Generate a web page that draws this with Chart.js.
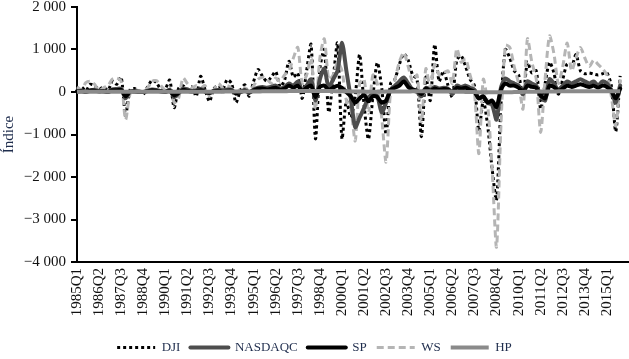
<!DOCTYPE html>
<html lang="es">
<head>
<meta charset="UTF-8">
<title>Índice</title>
<style>
  html, body { margin: 0; padding: 0; background: #fff; }
  #chart { display: block; }
</style>
</head>
<body>
<canvas id="chart" width="629" height="359"></canvas>
<script src="https://cdn.jsdelivr.net/npm/chart.js"></script>
<script>
// quarters 1985Q1 .. 2016Q2 (axis runs a little past the last observation)
const quarters = [];
for (let y = 1985; y <= 2016; y++) for (let q = 1; q <= 4; q++) quarters.push(y + 'Q' + q);
quarters.length = 126;

const shownTicks = ['1985Q1', '1986Q2', '1987Q3', '1988Q4', '1990Q1', '1991Q2', '1992Q3', '1993Q4',
  '1995Q1', '1996Q2', '1997Q3', '1998Q4', '2000Q1', '2001Q2', '2002Q3', '2003Q4', '2005Q1',
  '2006Q2', '2007Q3', '2008Q4', '2010Q1', '2011Q2', '2012Q3', '2013Q4', '2015Q1'];

const dji = [
  60, 120, 30, 180, 150, 60, 120, 40, 250, 180,
  350, -550, 50, 80, 20, -50, 120, 280, 220, 60,
  80, 280, -370, 80, 150, 60, 120, -100, 370, 60,
  -220, 80, 150, 60, 290, 200, -250, 40, 170, -100,
  250, 530, 370, 250, 350, 480, 120, 280, 720, 350,
  450, -150, 500, 1120, -1100, 550, 1000, -480, 300, 1150,
  -1100, -200, -600, -100, 880, -300, -1110, -100, 690, 100,
  -1000, 200, 300, 650, 900, 750, 400, 300, -1050, 350,
  -200, 1120, 250, 500, 160, -120, 750, 850, 600, 300,
  150, -920, -200, -800, -1800, -2550, -300, 1000, 800, 500,
  400, -100, 700, 450, 500, -400, 200, 700, 450, -50,
  300, 660, 600, 880, 500, 430, 450, 420, 400, 430,
  450, 150, -930, 380
];

const nasdaqc = [
  20, 30, 10, 40, 50, 30, 20, 0, 60, 70,
  80, -150, 10, 20, 10, 0, 30, 60, 50, 20,
  0, 50, -120, -30, 80, 60, 20, 40, 70, 20,
  -30, 30, 50, 40, 60, 50, -40, 0, 50, -20,
  60, 100, 120, 100, 120, 150, 80, 120, 200, 150,
  250, 50, 150, 300, -200, 300, 550, 100, 300, 500,
  1160, 500, -150, -830, -600, -380, -130, -50, -100, -480,
  -250, 50, 150, 250, 340, 200, 50, 0, -100, 100,
  50, 120, 80, 100, 80, -50, 150, 120, 150, 100,
  50, -150, -100, -250, -300, -650, 100, 320, 250, 200,
  150, -50, 250, 200, 150, -100, -200, 300, 200, 50,
  150, 250, 200, 250, 300, 250, 200, 250, 150, 250,
  200, 50, -250, 150
];

const sp = [
  10, 20, 0, 30, 30, 10, 20, 0, 40, 40,
  50, -100, 10, 10, 0, 0, 20, 40, 30, 10,
  0, 30, -80, -20, 50, 30, 10, 20, 40, 10,
  -20, 20, 30, 20, 30, 30, -30, 0, 30, -10,
  40, 80, 80, 60, 80, 100, 50, 80, 150, 100,
  150, 20, 100, 150, -120, 120, 150, 50, 100, 150,
  100, 0, -100, -250, -150, -70, -220, -100, -120, -250,
  -200, 50, 100, 150, 250, 120, 60, 30, -50, 80,
  30, 80, 50, 70, 60, 0, 100, 80, 100, 50,
  0, -150, -100, -250, -200, -350, 50, 200, 150, 150,
  100, 0, 150, 120, 100, -80, -150, 150, 120, 30,
  80, 150, 120, 150, 180, 150, 120, 150, 100, 150,
  120, 30, -150, 80
];

const ws = [
  120, 50, 220, 250, 180, 30, 100, 150, 300, 330,
  250, -650, -50, 50, 30, 0, 100, 250, 270, 150,
  50, 100, -250, -150, 330, 200, 100, 150, 100, 150,
  -100, 50, 200, 100, 150, 80, -50, 80, 100, 20,
  150, 300, 350, 300, 200, 330, 250, 400, 500, 800,
  1050, 200, 400, 800, -400, 800, 1250, 300, 400, 700,
  500, -200, -400, -1150, 200, 300, -500, 400, 200, -600,
  -1650, 0, 300, 710, 930, 600, 250, 400, -700, 550,
  100, 650, 400, 450, 500, 200, 1020, 700, 780, 400,
  0, -1450, 300, -300, -1800, -3650, -800, 1100, 1050, 600,
  200, -400, 1250, 700, 300, -950, 300, 1320, 900, 200,
  600, 1150, 500, 800, 1050, 800, 600, 750, 650, 550,
  400, -100, -800, 300
];

const hp = [
  5, 5, 5, 6, 6, 6, 6, 7, 7, 7,
  7, 6, 6, 6, 6, 6, 7, 7, 7, 7,
  7, 7, 6, 6, 6, 6, 7, 7, 7, 8,
  8, 8, 8, 9, 9, 9, 10, 10, 11, 12,
  13, 14, 15, 16, 17, 18, 19, 20, 21, 22,
  23, 23, 24, 24, 24, 24, 23, 22, 21, 20,
  18, 16, 14, 12, 10, 9, 8, 8, 8, 8,
  9, 10, 11, 12, 13, 14, 15, 15, 15, 15,
  15, 14, 13, 12, 10, 8, 6, 4, 2, 0,
  -2, -4, -6, -7, -8, -8, -7, -6, -4, -2,
  0, 2, 4, 6, 8, 10, 12, 13, 14, 15,
  16, 17, 18, 18, 19, 19, 19, 20, 20, 20,
  20, 20, 20, 20
];

const serif = "'Liberation Serif', 'Times New Roman', serif";

// "−1 000" style labels
const fmt = (v) => {
  const a = Math.abs(v);
  const s = a >= 1000 ? Math.floor(a / 1000) + ' ' + String(a % 1000).padStart(3, '0') : String(a);
  return (v < 0 ? '\u2212' : '') + s;
};

new Chart(document.getElementById('chart'), {
  type: 'line',
  data: {
    labels: quarters,
    datasets: [
      { label: 'DJI', data: dji, borderColor: '#000', borderWidth: 3, borderDash: [3, 3], order: 4 },
      { label: 'NASDAQC', data: nasdaqc, borderColor: '#4d4d4d', borderWidth: 4, borderCapStyle: 'round', order: 2 },
      { label: 'SP', data: sp, borderColor: '#000', borderWidth: 4, borderCapStyle: 'round', order: 1 },
      { label: 'WS', data: ws, borderColor: '#b5b5b5', borderWidth: 3, borderDash: [7, 4], order: 3 },
      { label: 'HP', data: hp, borderColor: '#8a8a8a', borderWidth: 4, order: 0 }
    ]
  },
  options: {
    responsive: false,
    animation: false,
    devicePixelRatio: 1,
    layout: { padding: { top: 7, left: 0, right: 0, bottom: 0 } },
    elements: { point: { radius: 0 }, line: { tension: 0.25, fill: false } },
    plugins: {
      tooltip: { enabled: false },
      legend: {
        position: 'bottom',
        maxHeight: 28,
        labels: {
          usePointStyle: true,
          pointStyle: 'line',
          pointStyleWidth: 38,
          padding: 10,
          color: '#1f2d4d',
          font: { family: serif, size: 13 },
          // point style legends lose the line dash, so copy it from the dataset
          generateLabels: (chart) => Chart.defaults.plugins.legend.labels.generateLabels(chart).map((item) => {
            const ds = chart.data.datasets[item.datasetIndex];
            item.lineDash = ds.borderDash || [];
            item.lineWidth = ds.borderWidth;
            item.lineCap = ds.borderCapStyle || 'butt';
            item.strokeStyle = ds.borderColor;
            return item;
          }),
          sort: (a, b) => a.datasetIndex - b.datasetIndex
        }
      }
    },
    scales: {
      x: {
        grid: { display: false, drawTicks: false },
        border: { display: true, color: '#000', width: 2 },
        ticks: {
          autoSkip: false,
          maxRotation: 90,
          minRotation: 90,
          padding: 6,
          color: '#111',
          font: { family: serif, size: 15 },
          callback: (v, i) => shownTicks.includes(quarters[i]) ? quarters[i] : ''
        },
        afterFit: (s) => { s.height = 69; s.paddingLeft = 0; s.paddingRight = 0; }
      },
      y: {
        min: -4000,
        max: 2000,
        grid: { drawOnChartArea: false, drawTicks: true, tickLength: 6, color: '#000', lineWidth: 2 },
        border: { display: true, color: '#000', width: 2 },
        ticks: { stepSize: 1000, padding: 5, color: '#111', font: { family: serif, size: 15 }, callback: fmt },
        title: { display: true, text: 'Índice', color: '#1f2d4d', font: { family: serif, size: 15 }, padding: { top: 0, bottom: 0 } },
        afterFit: (s) => { s.width = 77; s.paddingTop = 0; s.paddingBottom = 0; }
      }
    }
  }
});
</script>
</body>
</html>
